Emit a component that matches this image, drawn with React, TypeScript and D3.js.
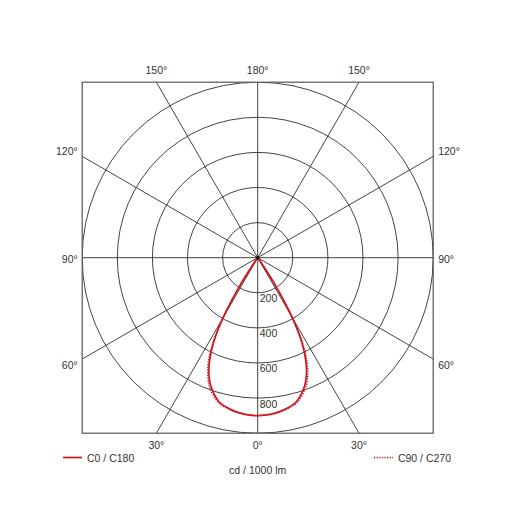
import React, { useEffect, useRef } from 'react';
import * as d3 from 'd3';

// gamma angles (deg from nadir) and luminous intensity (cd / 1000 lm)
const gammaAngles = [0, 5, 10, 15, 20, 22.5, 25, 27.5, 30, 32.5, 35, 36];
const c0c180 = [900, 895, 879, 850, 780, 725, 650, 545, 390, 195, 20, 0];
const c90c270 = [900, 895, 881, 857, 793, 741, 669, 563, 402, 200, 20, 0];

const ringValues = [200, 400, 600, 800, 1000];
const ringLabels = ['200', '400', '600', '800'];
const topLabels = ['150°', '180°', '150°'];
const bottomLabels = ['30°', '0°', '30°'];
const sideLabels = ['120°', '90°', '60°'];
const legendNames = ['C0 / C180', 'C90 / C270'];
const unitLabel = 'cd / 1000 lm';

const RED = '#d2161e';
const TEXT = '#333';

export default function App() {
  const svgRef = useRef<SVGSVGElement>(null);

  useEffect(() => {
    if (!svgRef.current) return;
    const svg = d3.select(svgRef.current);
    svg.selectAll('*').remove();

    const cx = 257.7;
    const cy = 257.7;
    const R = 175.5;
    const font = "'Liberation Sans', Arial, sans-serif";

    const r = d3.scaleLinear().domain([0, 1000]).range([0, R]);

    svg
      .append('defs')
      .append('clipPath')
      .attr('id', 'frame-clip')
      .append('rect')
      .attr('x', cx - R)
      .attr('y', cy - R)
      .attr('width', 2 * R)
      .attr('height', 2 * R);

    // grid, clipped to the square frame
    const cg = svg
      .append('g')
      .attr('clip-path', 'url(#frame-clip)')
      .append('g')
      .attr('transform', `translate(${cx},${cy})`);

    cg.selectAll('circle.ring')
      .data(ringValues)
      .enter()
      .append('circle')
      .attr('class', 'ring')
      .attr('r', (d) => r(d))
      .attr('fill', 'none')
      .attr('stroke', '#222')
      .attr('stroke-width', 0.85);

    // radial lines every 30 deg
    d3.range(0, 360, 30).forEach((a) => {
      const rad = (a * Math.PI) / 180;
      cg.append('line')
        .attr('x1', 0)
        .attr('y1', 0)
        .attr('x2', Math.sin(rad) * 300)
        .attr('y2', Math.cos(rad) * 300)
        .attr('stroke', '#222')
        .attr('stroke-width', 0.85);
    });

    svg
      .append('rect')
      .attr('x', cx - R)
      .attr('y', cy - R)
      .attr('width', 2 * R)
      .attr('height', 2 * R)
      .attr('fill', 'none')
      .attr('stroke', '#555')
      .attr('stroke-width', 1.2);

    const g = svg.append('g').attr('transform', `translate(${cx},${cy})`);

    // ring labels
    g.selectAll('text.ring-label')
      .data(ringLabels)
      .enter()
      .append('text')
      .attr('x', 2)
      .attr('y', (d) => r(+d) + 9.5)
      .style('font-family', font)
      .style('font-size', '10.5px')
      .style('fill', TEXT)
      .text((d) => d);

    // curves: right half C0 / C90, left half C180 / C270
    const toPoints = (vals: number[]) => {
      const right = gammaAngles
        .map((gm, i) => ({ a: Math.PI - (gm * Math.PI) / 180, v: vals[i] }))
        .reverse();
      const left = gammaAngles
        .slice(1)
        .map((gm, i) => ({ a: Math.PI + (gm * Math.PI) / 180, v: vals[i + 1] }));
      return right.concat(left);
    };

    const line = d3
      .lineRadial<{ a: number; v: number }>()
      .angle((d) => d.a)
      .radius((d) => r(d.v))
      .curve(d3.curveCatmullRom.alpha(0.5));

    g.append('path')
      .attr('d', line(toPoints(c90c270)) || '')
      .attr('fill', 'none')
      .attr('stroke', RED)
      .attr('stroke-width', 1.4)
      .attr('stroke-dasharray', '1.3,1.3');

    g.append('path')
      .attr('d', line(toPoints(c0c180)) || '')
      .attr('fill', 'none')
      .attr('stroke', RED)
      .attr('stroke-width', 1.7);

    g.append('circle').attr('r', 1.6).attr('fill', '#111');

    // angle labels
    const off = R * Math.tan(Math.PI / 6);
    const xs = [-off, 0, off];
    const label = (x: number, y: number, t: string, anchor: string) =>
      svg
        .append('text')
        .attr('x', x)
        .attr('y', y)
        .attr('text-anchor', anchor)
        .attr('dominant-baseline', 'central')
        .style('font-family', font)
        .style('font-size', '10.5px')
        .style('fill', TEXT)
        .text(t);

    topLabels.forEach((t, i) => label(cx + xs[i], cy - R - 12, t, 'middle'));
    bottomLabels.forEach((t, i) => label(cx + xs[i], cy + R + 12, t, 'middle'));
    const ys = [-off - 5.5, 1, off + 6];
    sideLabels.forEach((t, i) => {
      label(cx - R - 4.5, cy + ys[i], t, 'end');
      label(cx + R + 5, cy + ys[i], t, 'start');
    });

    // legend
    const ly = 457.5;
    svg
      .append('line')
      .attr('x1', 63)
      .attr('x2', 82)
      .attr('y1', ly)
      .attr('y2', ly)
      .attr('stroke', RED)
      .attr('stroke-width', 1.7);
    label(87, ly, legendNames[0], 'start');
    svg
      .append('line')
      .attr('x1', 374)
      .attr('x2', 393)
      .attr('y1', ly)
      .attr('y2', ly)
      .attr('stroke', RED)
      .attr('stroke-width', 1.4)
      .attr('stroke-dasharray', '1.3,1.3');
    label(451, ly, legendNames[1], 'end');
    label(cx, 470, unitLabel, 'middle');
  }, []);

  return (
    <div style={{ position: 'absolute', left: 0, top: 0 }}>
      <svg ref={svgRef} width={515} height={515} style={{ display: 'block', background: '#fff' }}></svg>
    </div>
  );
}
